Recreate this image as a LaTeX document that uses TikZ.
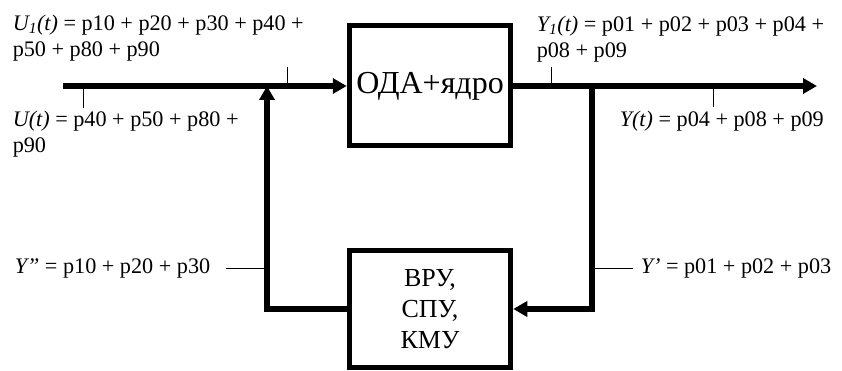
\documentclass[tikz,border=0pt]{standalone}
\usepackage{fontspec}
\setmainfont{Liberation Serif}
\usetikzlibrary{arrows.meta}

\begin{document}
\begin{tikzpicture}[x=1pt, y=-1pt, line width=5.5pt,
    block/.style={draw, line width=5pt, inner sep=0pt, minimum width=161.5pt},
    flow/.style={-{Triangle[length=14pt, width=15pt]}},
    tick/.style={line width=0.9pt},
    lbl/.style={inner sep=0pt, font=\fontsize{22.2}{26}\selectfont, align=left}]
    \useasboundingbox (0,0) rectangle (842,371);

    % Main line points
    \coordinate (in) at (63,86);
    \coordinate (out) at (817,86);
    \coordinate (join) at (267,86);
    \coordinate (split) at (592,86);

    % Blocks
    \node[block, minimum height=120pt, font=\fontsize{32}{38}\selectfont] (oda) at (430,86) {ОДА+ядро};
    \node[block, minimum height=117.5pt, font=\fontsize{26}{31}\selectfont, align=center] (kmu) at (430,309) {ВРУ,\\СПУ,\\КМУ};

    % Signal flow
    \draw[flow] (in) -- (oda.west);
    \draw[flow] (oda.east) -- (out);
    \draw[flow] (split) |- (kmu.east);
    \draw[flow] (kmu.west) -| (join);

    % Labels
    \node[lbl, anchor=north west] (u1) at (10,12) {\textit{U\textsubscript{1}(t)} = p10 + p20 + p30 + p40 +\\p50 + p80 + p90};
    \node[lbl, anchor=north west] (u) at (10,108) {\textit{U(t)} = p40 + p50 + p80 +\\p90};
    \node[lbl, anchor=north west] (y1) at (534,13) {\textit{Y\textsubscript{1}(t)} = p01 + p02 + p03 + p04 +\\p08 + p09};
    \node[lbl, anchor=base west] (y) at (617,127) {\textit{Y(t)} = p04 + p08 + p09};
    \node[lbl, anchor=base west] (y2) at (12,273) {\textit{Y”} = p10 + p20 + p30};
    \node[lbl, anchor=base west] (y3) at (638,273) {\textit{Y’} = p01 + p02 + p03};

    % Ticks
    \coordinate (tU) at (83,86);
    \draw[tick] (tU) -- (tU |- u.north);
    \coordinate (tU1) at (287,86);
    \coordinate (tU1e) at (287,67);
    \draw[tick] (tU1) -- (tU1e);
    \coordinate (tY1) at (551,86);
    \coordinate (tY1e) at (551,67);
    \draw[tick] (tY1) -- (tY1e);
    \coordinate (tY) at (713,86);
    \coordinate (tYe) at (713,107);
    \draw[tick] (tY) -- (tYe);
    \coordinate (tY2) at (267,268);
    \coordinate (tY2e) at (226,268);
    \draw[tick] (tY2) -- (tY2e);
    \coordinate (tY3) at (592,268);
    \coordinate (tY3e) at (633,268);
    \draw[tick] (tY3) -- (tY3e);
\end{tikzpicture}
\end{document}
